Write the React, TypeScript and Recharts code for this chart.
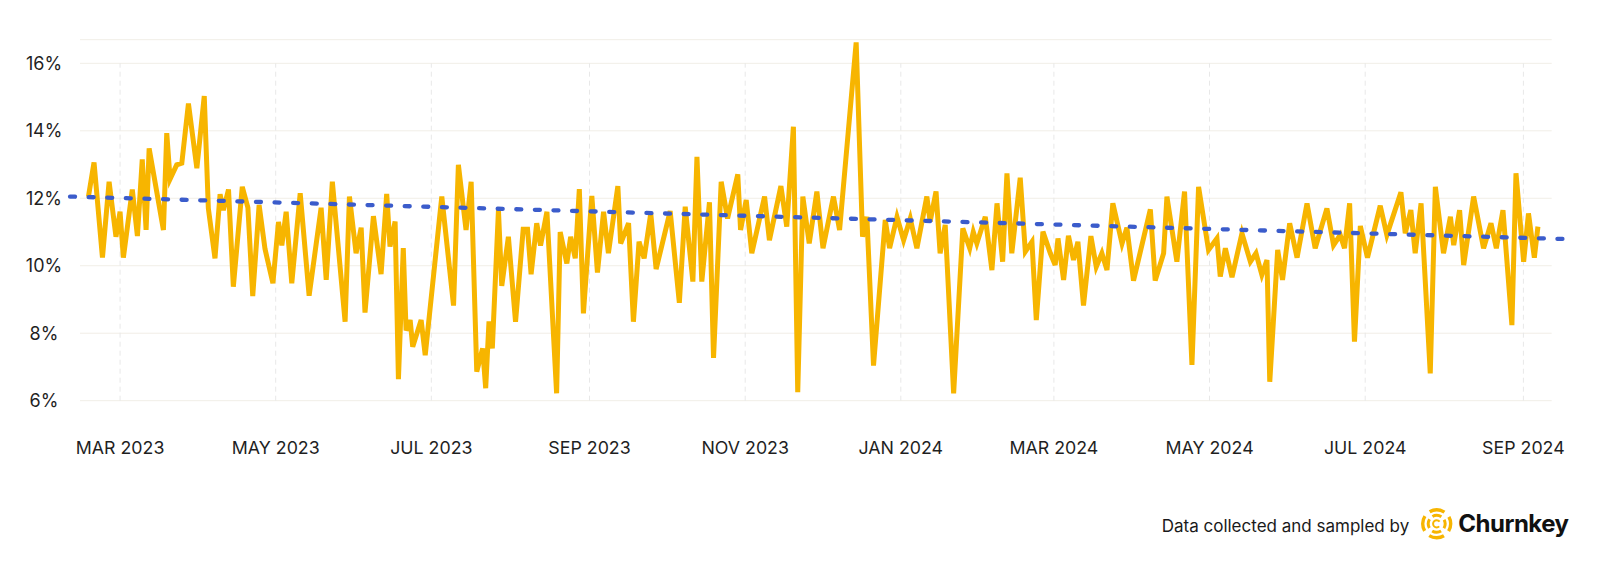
import React from "react";
import { LineChart, Line, XAxis, YAxis, CartesianGrid, ReferenceLine } from "recharts";

// sample dates as day offsets from 1 Mar 2023, paired with the churn rate (%) of that sample
const sampleDays = [
  -12.4, -10.2, -6.9, -4.3, -1.6, 0, 1.3, 4.8, 6.8, 8.7,
  10.2, 11.4, 17.0, 18.3, 19.6, 22.2, 24.2, 26.8, 30.1, 33.0,
  34.6, 37.2, 39.2, 40.5, 42.5, 44.4, 47.9, 50.1, 52.0, 54.5,
  56.8, 59.9, 62.1, 63.4, 65.1, 67.3, 70.6, 74.1, 78.8, 80.8,
  83.2, 88.2, 89.9, 92.5, 94.5, 96.0, 99.3, 102.3, 104.5, 105.8,
  107.8, 109.1, 111.0, 112.1, 113.7, 114.7, 118.0, 119.6, 126.1,
  130.7, 132.6, 135.6, 137.6, 139.8, 142.1, 143.3, 144.6, 145.9, 148.3,
  149.6, 152.2, 155.0, 158.0, 159.7, 161.1, 163.3, 164.8, 167.3, 171.1,
  172.5, 175.1, 176.6, 178.4, 180.0, 181.6, 184.9, 187.1, 189.5, 191.4,
  195.1, 196.2, 199.3, 201.2, 203.4, 205.4, 208.0, 210.1, 215.6, 219.2,
  221.5, 224.5, 226.1, 228.0, 231.0, 232.6, 235.6, 238.1, 242.1, 243.2,
  245.4, 247.6, 252.6, 254.5, 259.0, 261.3, 263.9, 265.6, 267.6, 270.1,
  273.1, 275.5, 279.6, 282.0, 288.5, 291.0, 292.7, 295.3, 299.9, 301.6,
  304.5, 307.1, 309.7, 312.3, 316.2, 317.5, 319.8, 321.4, 323.4, 326.7,
  330.3, 333.0, 334.4, 335.8, 339.1, 341.7, 343.7, 345.9, 347.6, 349.5,
  352.8, 354.8, 357.4, 359.1, 361.7, 364.6, 366.5, 367.6, 369.8, 371.7,
  373.7, 375.4, 377.6, 380.5, 382.6, 384.8, 386.8, 389.1, 392.7, 394.6,
  397.2, 403.8, 405.7, 409.0, 410.3,
  414.2, 417.2, 420.1, 422.7, 426.6, 429.9, 431.2, 433.2, 435.8, 439.7,
  443.0, 445.2, 447.5, 449.5, 450.6, 453.7, 455.6, 458.4, 461.3, 465.2,
  468.4, 473.0, 475.6, 478.2, 479.9, 481.9, 483.8, 486.1, 488.9, 493.9,
  496.5, 502.0, 503.7, 505.9, 507.6, 509.9, 513.5, 515.5, 518.7, 521.4,
  522.7, 525.0, 526.6, 530.5, 534.4, 537.3, 539.4, 542.0, 545.5, 547.1,
  550.1, 552.0, 554.3, 555.7,
];

const churnRates = [
  12.05, 13.06, 10.24, 12.49, 10.86, 11.6, 10.24, 12.26, 10.88, 13.15,
  11.06, 13.48, 11.06, 13.93, 12.57, 12.99, 13.04, 14.81, 12.89, 15.03,
  11.7, 10.22, 12.12, 11.65, 12.26, 9.38, 12.34, 11.72, 9.1, 11.8,
  10.5, 9.48, 11.3, 10.6, 11.6, 9.48, 12.15, 9.11, 11.72, 9.58,
  12.49, 8.34, 12.05, 10.37, 11.13, 8.61, 11.47, 9.75, 12.13, 10.57,
  11.31, 6.64, 10.52, 8.08, 8.39, 7.6, 8.39, 7.35, 12.05,
  8.82, 12.99, 11.06, 12.49, 6.86, 7.55, 6.37, 8.35, 7.55, 11.65,
  9.4, 10.86, 8.34, 11.08, 11.08, 9.75, 11.26, 10.6, 11.6, 6.22,
  11.0, 10.07, 10.86, 10.22, 12.27, 8.59, 12.07, 9.8, 11.6, 10.37,
  12.36, 10.66, 11.26, 8.34, 10.71, 10.22, 11.55, 9.9, 11.62, 8.9,
  11.75, 9.53, 13.23, 9.53, 11.88, 7.27, 12.49, 11.4, 12.71, 11.06,
  11.95, 10.37, 12.05, 10.76, 12.36, 11.16, 14.12, 6.25, 12.05, 10.66,
  12.2, 10.52, 12.05, 11.06, 16.62, 10.86, 11.45, 7.04, 11.36, 10.52,
  11.45, 10.76, 11.4, 10.52, 12.05, 11.31, 12.2, 10.37, 11.21, 6.22,
  11.11, 10.52, 11.0, 10.66, 11.45, 9.87, 11.85, 10.12, 12.74, 10.37,
  12.61, 10.42, 10.71, 8.39, 11.01, 10.37, 10.02, 10.81, 9.58, 10.89,
  10.17, 10.71, 8.82, 10.88, 9.97, 10.37, 9.87, 11.85, 10.66, 11.13,
  9.56, 11.67, 9.56, 10.37, 12.05,
  10.12, 12.2, 7.06, 12.34, 10.47, 10.81, 9.68, 10.52, 9.66, 10.96,
  10.12, 10.37, 9.73, 10.17, 6.56, 10.47, 9.58, 11.26, 10.24, 11.85,
  10.52, 11.7, 10.61, 10.91, 10.52, 11.85, 7.75, 11.18, 10.24, 11.78,
  10.91, 12.18, 10.96, 11.65, 10.37, 11.85, 6.81, 12.34, 10.37, 11.45,
  10.61, 11.65, 10.02, 12.05, 10.52, 11.26, 10.52, 11.65, 8.24, 12.74,
  10.12, 11.55, 10.24, 11.16,
];

const monthTicks = [0, 61, 122, 184, 245, 306, 366, 427, 488, 550];
const monthLabels = [
  "MAR 2023", "MAY 2023", "JUL 2023", "SEP 2023", "NOV 2023",
  "JAN 2024", "MAR 2024", "MAY 2024", "JUL 2024", "SEP 2024",
];
const rateTicks = [6, 8, 10, 12, 14, 16];

// linear trend, start and end
const trendDays = [-19.6, 567.1];
const trendRates = [12.05, 10.79];

const chartData = sampleDays.map((day, i) => ({ day, rate: churnRates[i] }));

const FONT = "Inter, 'Noto Sans', sans-serif";
const INK = "#1f1f1f";
const YELLOW = "#F7B500";
const BLUE = "#3B5CCB";

function RateTick({ x, y, payload }: any) {
  return (
    <text x={x} y={y} dy="0.355em" textAnchor="middle" fill={INK} fontSize={18} fontFamily={FONT}>
      {payload.value}%
    </text>
  );
}

function ChurnkeyMark({ cx, cy }: { cx: number; cy: number }) {
  const r1 = 14;
  const c1 = 2 * Math.PI * r1;
  const r2 = 8.5;
  const c2 = 2 * Math.PI * r2;
  const r3 = 3.6;
  const c3 = 2 * Math.PI * r3;
  return (
    <g fill="none" stroke={YELLOW}>
      <circle cx={cx} cy={cy} r={r1} strokeWidth={3.4}
        strokeDasharray={`${c1 / 4 - 6.5} 6.5`} strokeDashoffset={(c1 / 4 - 6.5) / 2} />
      <circle cx={cx} cy={cy} r={r2} strokeWidth={3}
        strokeDasharray={`${c2 / 4 - 4} 4`} strokeDashoffset={(c2 / 4 - 4) / 2} />
      <circle cx={cx} cy={cy} r={r3} strokeWidth={2}
        strokeDasharray={`${c3 - 5.6} 5.6`} strokeDashoffset={-2.8} />
    </g>
  );
}

export default function App() {
  return (
    <div style={{ position: "fixed", left: 0, top: 0, width: 1600, height: 566, background: "#fff" }}>
      <LineChart
        width={1600}
        height={566}
        data={chartData}
        margin={{ top: 39.7, right: 48.3, bottom: 105.3, left: 0 }}
      >
        <CartesianGrid vertical={false} stroke="#F1EEE7" />
        <XAxis
          type="number"
          dataKey="day"
          domain={[-15.7, 561.1]}
          ticks={monthTicks}
          interval={0}
          tickFormatter={(v) => monthLabels[monthTicks.indexOf(v)]}
          axisLine={false}
          tickLine={false}
          tickSize={0}
          tickMargin={41}
          height={60}
          tick={{ fill: INK, fontSize: 17.8, fontFamily: FONT }}
        />
        <YAxis
          type="number"
          domain={[6, 16.7]}
          ticks={rateTicks}
          interval={0}
          width={80}
          axisLine={false}
          tickLine={false}
          tickSize={0}
          tickMargin={36}
          tick={<RateTick />}
        />
        {monthTicks.map((d) => (
          <ReferenceLine
            key={d}
            segment={[{ x: d, y: 6 }, { x: d, y: 16 }]}
            stroke="#E8E8E8"
            strokeDasharray="5 4"
            ifOverflow="visible"
          />
        ))}
        <Line
          type="linear"
          dataKey="rate"
          stroke={YELLOW}
          strokeWidth={5}
          dot={false}
          activeDot={false}
          isAnimationActive={false}
        />
        <ReferenceLine
          segment={[
            { x: trendDays[0], y: trendRates[0] },
            { x: trendDays[1], y: trendRates[1] },
          ]}
          stroke={BLUE}
          strokeWidth={4.3}
          strokeDasharray="5 13.6"
          strokeLinecap="round"
          ifOverflow="visible"
        />
      </LineChart>
      <svg
        width={500}
        height={70}
        style={{ position: "absolute", left: 1100, top: 490 }}
      >
        <text x={61.7} y={41.7} fontSize={17} fontFamily={FONT} fill="#1a1a1a">
          Data collected and sampled by
        </text>
        <ChurnkeyMark cx={336.7} cy={33.8} />
        <text x={358.3} y={42} fontSize={24} fontWeight={700} letterSpacing={-0.5} fontFamily={FONT} fill="#111">
          Churnkey
        </text>
      </svg>
    </div>
  );
}
